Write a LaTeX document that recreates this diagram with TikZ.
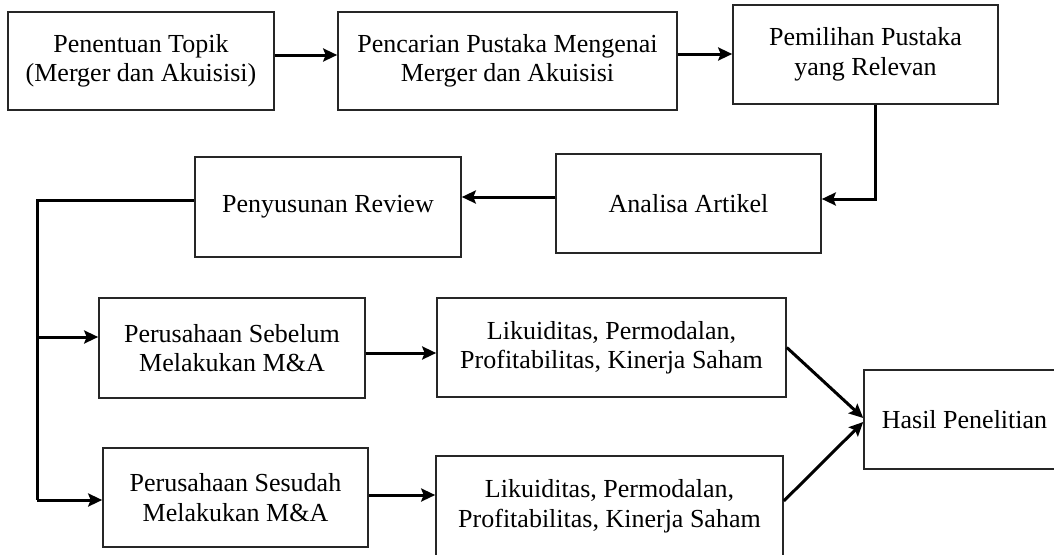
\documentclass[tikz,border=0pt]{standalone}
\usepackage{fontspec}
\setmainfont{Liberation Serif}
\usetikzlibrary{arrows.meta}
\begin{document}
\begin{tikzpicture}[x=1pt,y=-1pt,
  box/.style={draw=black!85, line width=1.6pt, rectangle, inner sep=0pt, align=center,
    font=\fontsize{26}{29.5}\selectfont},
  arr/.style={draw=black, line width=3pt, -{Stealth[length=14pt,width=13pt,inset=2.5pt]}},
  ln/.style={draw=black, line width=3pt}]
\clip (0,0) rectangle (1054,554);
\fill[white] (0,0) rectangle (1054,554);
\node[box, minimum width=266pt, minimum height=98pt] (b1) at (141,61) {Penentuan Topik\\(Merger dan Akuisisi)};
\node[box, minimum width=339pt, minimum height=98pt] (b2) at (507.5,61) {Pencarian Pustaka Mengenai\\Merger dan Akuisisi};
\node[box, minimum width=265pt, minimum height=99pt] (b3) at (865.5,54.5) {Pemilihan Pustaka\\yang Relevan};
\node[box, minimum width=265pt, minimum height=99pt] (b4) at (688.5,203.5) {Analisa Artikel};
\node[box, minimum width=266pt, minimum height=100pt] (b5) at (328,207) {Penyusunan Review};
\node[box, minimum width=266pt, minimum height=100pt] (b6) at (232,348) {Perusahaan Sebelum\\Melakukan M\&A};
\node[box, minimum width=265pt, minimum height=99pt] (b7) at (235.5,497.5) {Perusahaan Sesudah\\Melakukan M\&A};
\node[box, minimum width=349pt, minimum height=99pt] (b8) at (611.5,347.5) {Likuiditas, Permodalan,\\Profitabilitas, Kinerja Saham};
\node[box, minimum width=347pt, minimum height=100pt] (b9) at (609.5,506) {Likuiditas, Permodalan,\\Profitabilitas, Kinerja Saham};
\node[box, minimum width=201pt, minimum height=99pt] (b10) at (964.5,419.5) {Hasil Penelitian};
\coordinate (k1) at (37,337);
\coordinate (k2) at (37,500);
\draw[arr] ([yshift=6pt]b1.east) -- ([yshift=6pt]b1.east -| b2.west);
\draw[arr] ([yshift=7pt]b2.east) -- ([yshift=7pt]b2.east -| b3.west);
\draw[arr] ([xshift=9.5pt]b3.south) |- ([yshift=4.5pt]b4.east);
\draw[arr] ([yshift=6.5pt]b4.west) -- ([yshift=6.5pt]b4.west -| b5.east);
\draw[ln] ([yshift=7pt]b5.west) -| (k2);
\draw[arr] (k1) -- (k1 -| b6.west);
\draw[arr] (k2) -- (k2 -| b7.west);
\draw[arr] ([yshift=-5pt]b6.east) -- ([yshift=-5pt]b6.east -| b8.west);
\draw[arr] ([yshift=2.5pt]b7.east) -- ([yshift=2.5pt]b7.east -| b9.west);
\draw[arr] (b8.east) -- ([yshift=1.5pt]b10.west);
\draw[arr] ([yshift=5pt]b9.east) -- ([yshift=-2.5pt]b10.west);
\end{tikzpicture}
\end{document}
